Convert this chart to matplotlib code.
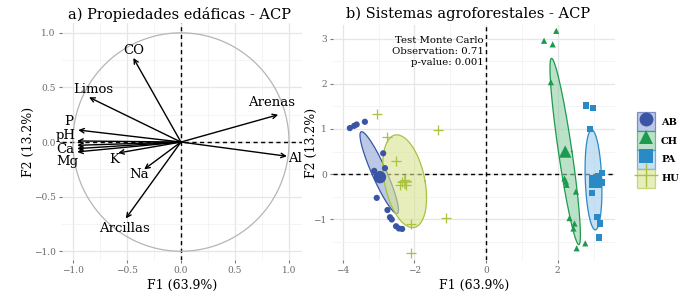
import numpy as np
import matplotlib
matplotlib.use('Agg')
import matplotlib.pyplot as plt
from matplotlib.lines import Line2D
from matplotlib.patches import Rectangle
from matplotlib.legend_handler import HandlerTuple

plt.rcParams['font.family'] = ['DejaVu Serif']

# panel a) variable loadings (F1, F2)
var_names = ['CO', 'Limos', 'Arenas', 'Al', 'P', 'pH', '', 'Ca', 'Mg', 'K', 'Na', 'Arcillas']
var_f1 = [-0.44, -0.85, 0.90, 0.98, -0.95, -0.96, -0.96, -0.96, -0.96, -0.58, -0.34, -0.51]
var_f2 = [0.77, 0.41, 0.25, -0.13, 0.11, 0.01, -0.03, -0.06, -0.09, -0.10, -0.25, -0.70]
# label offsets from arrow tips
lab_dx = [0.00, 0.04, -0.06, 0.08, -0.09, -0.11, 0, -0.11, -0.09, -0.04, -0.05, -0.01]
lab_dy = [0.07, 0.07, 0.11, -0.02, 0.08, 0.05, 0, -0.01, -0.09, -0.06, -0.05, -0.09]

# panel b) individuals
groups = ['AB', 'CH', 'PA', 'HU']
colors = {'AB': '#3a55a6', 'CH': '#1e9a50', 'PA': '#2a8ac6', 'HU': '#a9c23f'}
fills = {'AB': '#8fa5d6', 'CH': '#8fd0a6', 'PA': '#9fcdec', 'HU': '#d8e48e'}
markers = {'AB': 'o', 'CH': '^', 'PA': 's', 'HU': '+'}

ab_x = [-3.80, -3.68, -3.61, -3.38, -2.87, -2.82, -3.12, -3.05, -2.75, -2.68, -2.63, -2.51, -2.43, -2.34]
ab_y = [1.02, 1.07, 1.10, 1.16, 0.46, 0.13, 0.07, -0.53, -0.80, -0.96, -1.01, -1.16, -1.21, -1.22]
ch_x = [1.96, 1.62, 1.86, 1.81, 2.19, 2.23, 2.25, 2.51, 2.33, 2.47, 2.44, 2.77, 2.53]
ch_y = [3.18, 2.96, 2.88, 2.04, -0.10, -0.17, -0.24, -0.39, -0.98, -1.10, -1.21, -1.54, -1.65]
pa_x = [2.79, 2.98, 2.91, 3.23, 2.95, 3.04, 2.95, 3.23, 3.12, 3.09, 3.18, 3.16]
pa_y = [1.52, 1.46, 1.00, 0.03, -0.10, -0.24, -0.43, -0.19, -0.05, -0.96, -1.10, -1.41]
hu_x = [-3.03, -2.77, -2.51, -2.35, -2.26, -2.22, -2.40, -1.33, -2.08, -1.13, -2.09]
hu_y = [1.33, 0.83, 0.28, -0.17, -0.13, -0.24, -0.24, 0.98, -1.10, -0.98, -1.75]
points = {'AB': (ab_x, ab_y), 'CH': (ch_x, ch_y), 'PA': (pa_x, pa_y), 'HU': (hu_x, hu_y)}

# group means (large markers)
centroids = {'AB': (-2.96, -0.07), 'CH': (2.21, 0.50), 'PA': (3.05, -0.18), 'HU': (-2.25, -0.18)}

# ellipses: centre, conjugate half-diameter to top tip, horizontal half-width
ell_center = {'AB': (-2.98, 0.03), 'CH': (2.21, 0.50), 'PA': (3.00, -0.13), 'HU': (-2.27, -0.16)}
ell_top = {'AB': (-0.49, 0.91), 'CH': (-0.38, 2.07), 'PA': (-0.05, 1.11), 'HU': (-0.22, 1.03)}
ell_half_w = {'AB': 0.22, 'CH': 0.19, 'PA': 0.23, 'HU': 0.57}

grid_major = '#e6e6e6'
grid_minor = '#f2f2f2'
tick_col = '#7a7a7a'

fig = plt.figure(figsize=(6.85, 3.02), dpi=100)
ax1 = fig.add_axes([62/685, 42/302, 240/685, 237/302])
ax2 = fig.add_axes([333/685, 42/302, 282/685, 235/302])


def style(ax):
    for s in ax.spines.values():
        s.set_visible(False)
    ax.grid(True, which='major', color=grid_major, lw=0.9, zorder=0)
    ax.grid(True, which='minor', color=grid_minor, lw=0.6, zorder=0)
    ax.set_axisbelow(True)
    ax.tick_params(which='major', length=2.5, width=0.8, color=tick_col,
                   labelcolor='#6a6a6a', labelsize=6.5, pad=2)
    ax.tick_params(which='minor', length=0)
    ax.axhline(0, color='black', ls=(0, (3, 2.5)), lw=1.0, zorder=1)
    ax.axvline(0, color='black', ls=(0, (3, 2.5)), lw=1.0, zorder=1)


# ---- panel a
style(ax1)
t = np.linspace(0, 2 * np.pi, 300)
ax1.plot(np.cos(t), np.sin(t), color='#b5b5b5', lw=0.9, zorder=2)
for name, x, y, dx, dy in zip(var_names, var_f1, var_f2, lab_dx, lab_dy):
    ax1.annotate('', xy=(x, y), xytext=(0, 0),
                 arrowprops=dict(arrowstyle='->', color='black', lw=1.0,
                                 shrinkA=0, shrinkB=0, mutation_scale=8), zorder=3)
    if name:
        ax1.text(x + dx, y + dy, name, ha='center', va='center', fontsize=9.5, zorder=4)
ax1.set_xlim(-1.1, 1.12)
ax1.set_ylim(-1.08, 1.09)
ax1.set_xticks([-1.0, -0.5, 0.0, 0.5, 1.0])
ax1.set_yticks([-1.0, -0.5, 0.0, 0.5, 1.0])
ax1.set_xticks([-0.75, -0.25, 0.25, 0.75], minor=True)
ax1.set_yticks([-0.75, -0.25, 0.25, 0.75], minor=True)
ax1.set_xlabel('F1 (63.9%)', fontsize=9, labelpad=3)
ax1.set_ylabel('F2 (13.2%)', fontsize=9, labelpad=-1)

# ---- panel b
style(ax2)
for g in groups:
    cx, cy = ell_center[g]
    ax_, ay_ = ell_top[g]
    ex = cx + np.sin(t) * ax_ + np.cos(t) * ell_half_w[g]
    ey = cy + np.sin(t) * ay_
    ax2.fill(ex, ey, facecolor=fills[g], alpha=0.6, edgecolor='none', zorder=2)
    ax2.plot(ex, ey, color=colors[g], lw=0.9, zorder=2)
for g in groups:
    xs, ys = points[g]
    if g == 'HU':
        ax2.scatter(xs, ys, marker='+', s=45, color=colors[g], linewidths=0.9, zorder=3)
        ax2.scatter(*centroids[g], marker='+', s=110, color=colors[g], linewidths=1.1, zorder=4)
    else:
        ax2.scatter(xs, ys, marker=markers[g], s=20, color=colors[g], edgecolors='none', zorder=3)
        ax2.scatter(*centroids[g], marker=markers[g], s=80, color=colors[g], edgecolors='none', zorder=4)
ax2.set_xlim(-4.27, 3.6)
ax2.set_ylim(-1.91, 3.31)
ax2.set_xticks([-4, -2, 0, 2])
ax2.set_yticks([-1, 0, 1, 2, 3])
ax2.set_xticks([-3, -1, 1, 3], minor=True)
ax2.set_yticks([-1.5, -0.5, 0.5, 1.5, 2.5], minor=True)
ax2.set_xlabel('F1 (63.9%)', fontsize=9, labelpad=3)
ax2.set_ylabel('F2 (13.2%)', fontsize=9, labelpad=-3)
ax2.text(-0.06, 3.07, 'Test Monte Carlo\nObservation: 0.71\np-value: 0.001',
         ha='right', va='top', fontsize=7.3, linespacing=1.3, zorder=5)

handles = []
for g in groups:
    box = Rectangle((0, 0), 1, 1, facecolor=fills[g], alpha=0.6,
                    edgecolor=colors[g], lw=0.9)
    if g == 'HU':
        mk = Line2D([], [], marker='+', ls='none', color=colors[g], markersize=17, mew=1.0)
    else:
        mk = Line2D([], [], marker=markers[g], ls='none', color=colors[g], markersize=10, mew=0)
    handles.append((box, mk))
fig.legend(handles, groups, handler_map={tuple: HandlerTuple(ndivide=1, pad=0)},
           loc='center left', bbox_to_anchor=(630/685, 1 - 150/302), frameon=False,
           handlelength=1.9, handleheight=2.6, labelspacing=0.0, handletextpad=0.6,
           borderpad=0.2, prop={'size': 7, 'weight': 'bold'})

fig.text(179/685, 1 - 14/302, 'a) Propiedades edáficas - ACP', ha='center', va='center', fontsize=10.5)
fig.text(468/685, 1 - 14/302, 'b) Sistemas agroforestales - ACP', ha='center', va='center', fontsize=10.5)

fig.savefig('out.png', dpi=100)
